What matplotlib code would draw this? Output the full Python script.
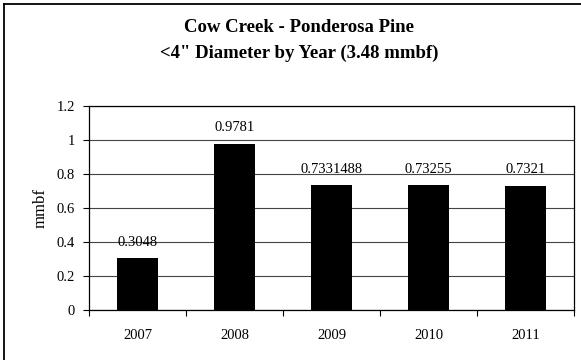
import matplotlib
matplotlib.use("Agg")
import matplotlib.pyplot as plt
from matplotlib.lines import Line2D

years = ["2007", "2008", "2009", "2010", "2011"]
values = [0.3048, 0.9781, 0.7331, 0.73255, 0.7321]
value_labels = ["0.3048", "0.9781", "0.7331488", "0.73255", "0.7321"]
yticks = [0, 0.2, 0.4, 0.6, 0.8, 1.0, 1.2]
ytick_labels = ["0", "0.2", "0.4", "0.6", "0.8", "1", "1.2"]

plt.rcParams['font.family'] = ['Liberation Serif', 'DejaVu Serif']

W, H = 581, 360
fig = plt.figure(figsize=(W / 100, H / 100), dpi=100)
fig.patch.set_facecolor('white')

left, right, top, bottom = 89, 574, 106, 310
ax = fig.add_axes([left / W, 1 - bottom / H, (right - left) / W, (bottom - top) / H])

x = list(range(len(years)))
ax.bar(x, values, width=0.42, color='black', zorder=3)
ax.set_xlim(-0.5, len(years) - 0.5)
ax.set_ylim(0, 1.2)

ax.set_yticks(yticks)
ax.set_yticklabels(ytick_labels, fontsize=10.5)
ax.yaxis.grid(True, color='#444444', linewidth=0.8, zorder=0)
ax.set_axisbelow(True)

ax.set_xticks(x)
ax.set_xticklabels(years, fontsize=10.5)
ax.tick_params(axis='x', which='major', length=0, pad=14)
ax.set_xticks([i - 0.5 for i in range(len(years) + 1)], minor=True)
ax.tick_params(axis='x', which='minor', length=4, width=0.8, direction='out')
ax.tick_params(axis='y', length=4, width=0.8, direction='out', pad=6)

for s in ax.spines.values():
    s.set_color('black')
    s.set_linewidth(0.9)

for xi, v, lab in zip(x, values, value_labels):
    ax.annotate(lab, (xi, v), xytext=(0, 11.5), textcoords='offset points',
                ha='center', va='center', fontsize=10.5, zorder=4)

ax.set_ylabel("mmbf", fontsize=12, labelpad=6)

fig.text(299 / W, 1 - 28 / H, "Cow Creek - Ponderosa Pine", ha='center', va='center',
         fontsize=13.5, fontweight='bold')
fig.text(299 / W, 1 - 53 / H, "<4\" Diameter by Year (3.48 mmbf)", ha='center', va='center',
         fontsize=13.5, fontweight='bold')

# outer chart border (left and top visible)
fig.add_artist(Line2D([4 / W, 4 / W], [0, 1 - 4 / H], color='black', linewidth=1.3,
                      transform=fig.transFigure))
fig.add_artist(Line2D([4 / W, 1], [1 - 4 / H, 1 - 4 / H], color='black', linewidth=1.3,
                      transform=fig.transFigure))

fig.savefig("out.png", dpi=100)
